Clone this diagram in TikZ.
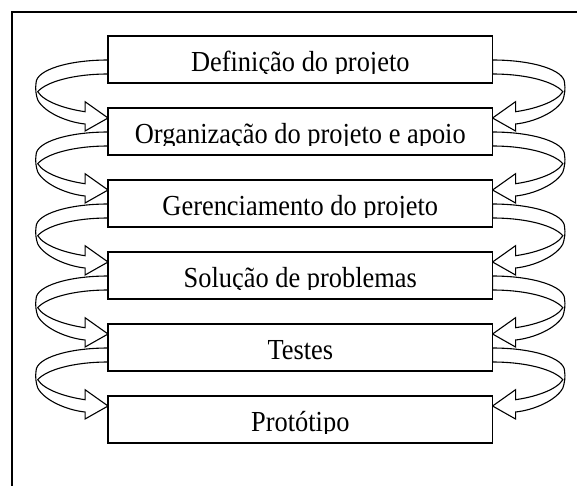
\documentclass[tikz,border=0pt]{standalone}
\usepackage{fontspec}
\setmainfont{Liberation Serif}
\usetikzlibrary{backgrounds}
\begin{document}
\begin{tikzpicture}[x=1pt,y=-1pt,
  boxstyle/.style={draw, line width=1.5pt, fill=white, minimum width=384.5pt,
    minimum height=47pt, inner sep=0pt, outer sep=0pt},
  lbl/.style={anchor=base, inner sep=0pt, outer sep=0pt,
    font=\fontsize{26.4}{30}\selectfont, yscale=1.1, transform shape},
  arrowshape/.style={draw, line width=1.1pt, fill=white, line join=miter},
  framestyle/.style={draw, line width=1.4pt}]
\useasboundingbox (0,0) rectangle (577,485);
\draw[framestyle] (12,486) -- (12,12) -- (578,12);
\foreach \i/\t/\txt in {1/36/{Definição do projeto},
                        2/108/{Organização do projeto e apoio},
                        3/180/{Gerenciamento do projeto},
                        4/252/{Solução de problemas},
                        5/324/{Testes},
                        6/396/{Protótipo}}{
  \node[boxstyle] (b\i) at (300.3,{\t+23.5}) {};
  \begin{scope}
    \clip (108,\t) rectangle (493,{\t+37});
    \node[lbl] (t\i) at (300.3,{\t+35.3}) {\txt};
  \end{scope}
}
\begin{scope}[on background layer]
\foreach \i in {1,...,5}{
  \foreach \side/\sx in {north west/1, north east/-1}{
    \begin{scope}[shift={(b\i.\side)}, xscale=\sx]
      \draw[arrowshape] (0,24) .. controls (-40,24) and (-72,34) .. (-72,47)
        .. controls (-73,53) and (-72,59) .. (-70.3,64)
        .. controls (-64,76) and (-42,86) .. (-23,88)
        -- (-23,95) -- (0,82) -- (-23,65.7) -- (-23,75.7)
        .. controls (-42,73) and (-64,66) .. (-70.3,55.7)
        .. controls (-62,46) and (-35,38) .. (0,38) -- cycle;
    \end{scope}
  }
}
\end{scope}
\end{tikzpicture}
\end{document}
